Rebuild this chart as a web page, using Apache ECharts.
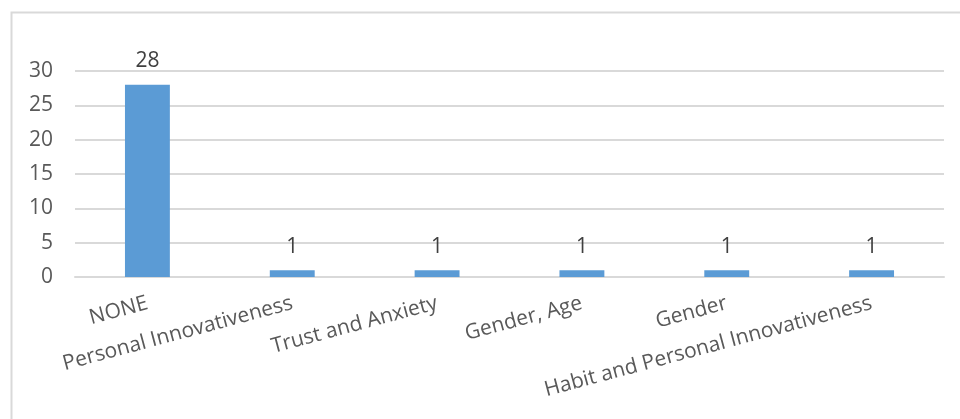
<!DOCTYPE html>
<html>
<head>
<meta charset="utf-8">
<script src="https://cdn.jsdelivr.net/npm/echarts@6/dist/echarts.min.js"></script>
<style>html,body{margin:0;padding:0;background:#fff}#c{width:960px;height:419px}</style>
</head>
<body>
<div id="c"></div>
<script>
var categories = ['NONE', 'Personal Innovativeness', 'Trust and Anxiety', 'Gender, Age', 'Gender', 'Habit and Personal Innovativeness'];
var values = [28, 1, 1, 1, 1, 1];
var yTicks = [0, 5, 10, 15, 20, 25, 30];

var chart = echarts.init(document.getElementById('c'), null, {renderer: 'canvas'});
chart.setOption({
  animation: false,
  graphic: [{
    type: 'rect',
    shape: {x: 11.5, y: 12.5, width: 1000, height: 500},
    style: {fill: 'none', stroke: '#d9d9d9', lineWidth: 2}
  }],
  grid: {left: 75, right: 16, top: 71, bottom: 142, containLabel: false},
  xAxis: {
    type: 'category',
    data: categories,
    axisLine: {show: true, lineStyle: {color: '#d9d9d9', width: 2}},
    axisTick: {show: false},
    axisLabel: {
      interval: 0,
      rotate: 15,
      color: '#595959',
      fontSize: 21,
      fontFamily: 'Open Sans',
      margin: 26
    }
  },
  yAxis: {
    type: 'value',
    min: 0,
    max: 30,
    interval: 5,
    axisLine: {show: false},
    axisTick: {show: false},
    splitLine: {lineStyle: {color: '#d9d9d9', width: 2}},
    axisLabel: {
      color: '#595959',
      fontSize: 21,
      fontFamily: 'Open Sans',
      margin: 22,
      formatter: function (v) { return yTicks.indexOf(v) >= 0 ? String(v) : ''; }
    }
  },
  series: [{
    type: 'bar',
    data: values,
    barWidth: '31%',
    itemStyle: {color: '#5b9bd5'},
    label: {
      show: true,
      position: 'top',
      distance: 13,
      color: '#404040',
      fontSize: 21,
      fontFamily: 'Open Sans'
    }
  }]
});
</script>
</body>
</html>
